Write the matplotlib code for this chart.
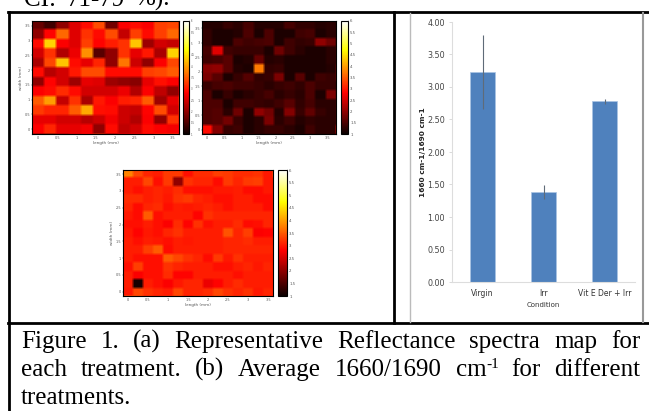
import matplotlib
matplotlib.use("Agg")
import matplotlib.pyplot as plt
import numpy as np
from matplotlib.cm import ScalarMappable
from matplotlib.colors import Normalize

W, H = 649, 411

map_a = [
    [.14, .08, .20, .32, .38, .48, .16, .36, .38, .36, .46, .47],
    [.20, .37, .52, .32, .44, .38, .48, .28, .46, .38, .46, .52],
    [.38, .68, .36, .32, .46, .37, .41, .44, .66, .22, .30, .28],
    [.30, .44, .25, .34, .58, .12, .20, .44, .33, .40, .24, .68],
    [.24, .47, .66, .38, .33, .42, .20, .54, .29, .20, .36, .47],
    [.38, .26, .30, .40, .48, .48, .38, .38, .38, .46, .47, .50],
    [.20, .37, .30, .22, .33, .32, .22, .20, .19, .33, .39, .36],
    [.36, .38, .43, .38, .30, .30, .30, .34, .25, .36, .27, .20],
    [.50, .60, .28, .44, .24, .40, .36, .41, .42, .50, .22, .33],
    [.45, .42, .42, .50, .62, .39, .38, .29, .28, .37, .48, .30],
    [.33, .33, .30, .30, .26, .29, .35, .29, .25, .36, .20, .44],
    [.36, .42, .33, .33, .35, .20, .38, .27, .30, .38, .36, .35],
]
map_b = [
    [.04, .04, .07, .05, .09, .04, .04, .04, .09, .06, .06, .04, .05],
    [.06, .03, .03, .04, .10, .03, .10, .03, .03, .08, .09, .03, .05],
    [.06, .03, .03, .10, .08, .09, .10, .03, .08, .06, .07, .20, .15],
    [.09, .32, .08, .07, .07, .07, .03, .15, .08, .05, .03, .03, .05],
    [.08, .09, .12, .03, .04, .14, .04, .05, .03, .03, .03, .03, .05],
    [.19, .20, .12, .04, .03, .55, .06, .07, .03, .03, .03, .03, .04],
    [.17, .12, .03, .07, .11, .06, .07, .17, .03, .12, .03, .08, .07],
    [.07, .09, .10, .08, .08, .07, .05, .07, .08, .06, .10, .07, .07],
    [.10, .03, .07, .03, .05, .07, .09, .05, .07, .05, .10, .03, .17],
    [.10, .10, .03, .08, .08, .07, .06, .08, .12, .06, .09, .05, .05],
    [.10, .11, .05, .15, .03, .20, .16, .04, .18, .07, .13, .07, .05],
    [.10, .11, .16, .07, .03, .05, .17, .05, .08, .04, .06, .05, .05],
    [.38, .18, .07, .08, .03, .05, .07, .07, .05, .03, .08, .05, .05],
]
map_c = [
    [.56, .47, .42, .41, .45, .45, .39, .43, .43, .46, .45, .43, .43, .44, .40],
    [.41, .41, .47, .39, .45, .20, .44, .42, .42, .38, .45, .42, .45, .46, .40],
    [.41, .39, .41, .42, .41, .43, .39, .39, .39, .40, .40, .41, .38, .38, .40],
    [.43, .43, .41, .42, .40, .44, .45, .42, .41, .39, .39, .41, .41, .38, .38],
    [.42, .38, .42, .43, .39, .41, .40, .41, .42, .41, .39, .41, .41, .41, .38],
    [.40, .38, .50, .39, .41, .41, .41, .37, .44, .42, .42, .42, .42, .42, .42],
    [.39, .39, .41, .39, .36, .43, .37, .44, .39, .41, .41, .43, .38, .39, .42],
    [.40, .37, .40, .39, .42, .44, .41, .41, .41, .41, .49, .42, .46, .36, .37],
    [.41, .39, .41, .40, .39, .41, .40, .41, .41, .41, .42, .42, .43, .41, .41],
    [.41, .41, .46, .50, .38, .41, .41, .41, .41, .41, .42, .42, .42, .42, .42],
    [.41, .39, .39, .39, .50, .47, .44, .42, .38, .45, .40, .44, .41, .41, .41],
    [.39, .46, .39, .39, .44, .42, .41, .41, .41, .39, .39, .41, .42, .40, .42],
    [.41, .36, .39, .39, .43, .37, .37, .41, .41, .41, .41, .39, .41, .41, .41],
    [.41, .02, .41, .39, .36, .40, .42, .42, .34, .37, .41, .43, .41, .41, .41],
    [.40, .47, .44, .42, .41, .47, .42, .42, .43, .47, .44, .42, .44, .40, .42],
]
bar_ticks = [0.0, 0.5, 1.0, 1.5, 2.0, 2.5, 3.0, 3.5, 4.0]
conditions = ["Virgin", "Irr", "Vit E Der + Irr"]
ratios = [3.23, 1.38, 2.78]
ratio_err = [0.57, 0.11, 0.04]
map_ticks = [0, 0.5, 1, 1.5, 2, 2.5, 3, 3.5]
cbar_labels = ["1", "1.5", "2", "2.5", "3", "3.5", "4", "4.5", "5", "5.5", "6"]
top_line = "CI: 71-79 %)."
caption = ["Figure 1. (a) Representative Reflectance spectra map for",
           "each treatment. (b) Average 1660/1690 cm for different",
           "treatments."]

fig = plt.figure(figsize=(W / 100, H / 100), dpi=100)


def px_axes(x0, y0, x1, y1, **kw):
    return fig.add_axes([x0 / W, 1 - y1 / H, (x1 - x0) / W, (y1 - y0) / H], **kw)


def soften(img, dpi):
    # the reference is an upscaled scan, cells have soft edges
    out = img.copy()
    for axis in (0, 1):
        out = (np.roll(out, 1, axis) + out + np.roll(out, -1, axis)) / 3
    out[..., 3] = img[..., 3]
    return out, 0, 0


def draw_map(data, box, cbox, top, ylabel, size=2.8):
    ax = px_axes(*box)
    step = top / (len(data) - 1)
    im = ax.imshow(data, cmap="hot", vmin=0, vmax=1, aspect="auto", interpolation="nearest",
                   extent=[-step / 2, top + step / 2, -step / 2, top + step / 2])
    im.set_agg_filter(soften)
    ax.set_xticks(map_ticks)
    ax.set_yticks(map_ticks)
    ax.set_xticklabels([str(t) for t in map_ticks])
    ax.set_yticklabels([str(t) for t in map_ticks])
    ax.tick_params(labelsize=2.5, length=1, width=0.3, pad=0.5, colors="#555555")
    ax.set_xlabel("length (mm)", fontsize=3, labelpad=1, color="#555555")
    if ylabel:
        ax.set_ylabel("width (mm)", fontsize=3, labelpad=1, color="#555555")
    for s in ax.spines.values():
        s.set_linewidth(0.8)

    cax = px_axes(*cbox)
    cb = fig.colorbar(ScalarMappable(Normalize(0, 1), "hot"), cax=cax)
    cb.set_ticks([i / 10 for i in range(11)])
    cb.set_ticklabels(cbar_labels)
    cb.ax.tick_params(labelsize=size, length=1, width=0.3, pad=0.5, colors="#555555")
    cb.outline.set_linewidth(0.8)


draw_map(map_a, (32, 21, 179, 134), (183, 21, 189, 134), 3.5, True, size=1.8)
draw_map(map_b, (202, 21, 336, 134), (341, 21, 348, 134), 3.6, False)
draw_map(map_c, (123, 170, 273, 296), (278, 170, 287, 296), 3.5, True)

# bar chart
ax = px_axes(452, 22, 635, 282)
pos = range(len(conditions))
ax.bar(pos, ratios, width=0.41, color="#4f81bd", edgecolor="#a9c4e4", linewidth=0.5,
       yerr=ratio_err, ecolor="#5f6b78", error_kw={"elinewidth": 0.8})
ax.set_xlim(-0.5, 2.5)
ax.set_ylim(0, 4)
ax.set_yticks(bar_ticks)
ax.set_yticklabels(["%.2f" % t for t in bar_ticks])
ax.set_xticks(list(pos))
ax.set_xticklabels(conditions)
ax.tick_params(axis="x", length=0, labelsize=5.5, pad=5, colors="#333333")
ax.tick_params(axis="y", length=2, width=0.5, labelsize=5.8, pad=3, color="#cccccc", labelcolor="#444444")
ax.set_xlabel("Condition", fontsize=5, labelpad=3, color="#333333")
ax.set_ylabel("1660 cm-1/1690 cm-1", fontsize=5.3, fontweight="bold", labelpad=1, color="#222222")
ax.spines["top"].set_visible(False)
ax.spines["right"].set_visible(False)
ax.spines["left"].set_color("#dddddd")
ax.spines["bottom"].set_color("#dddddd")

# page layer: table rules, chart frame and caption, in pixel coordinates
page = fig.add_axes([0, 0, 1, 1], zorder=5)
page.set_xlim(0, W)
page.set_ylim(H, 0)
page.axis("off")
page.plot([8, W], [12, 12], color="black", lw=2)
page.plot([8, W], [323, 323], color="black", lw=2)
page.plot([9, 9], [12, H], color="black", lw=2)
page.plot([394, 394], [12, 323], color="black", lw=2)
page.plot([409.5, 409.5], [13, 322], color="#bbbbbb", lw=1)
page.plot([643, 643], [13, 322], color="#999999", lw=1.5)

serif = {"family": "Liberation Serif", "fontsize": 18, "color": "black"}
rend = fig.canvas.get_renderer()


def width(s):
    t = page.text(0, 0, s, **serif)
    w = t.get_window_extent(rend).width
    t.remove()
    return w


def justify(line, y, x0=21, x1=640):
    words = line.split()
    widths = [width(w) for w in words]
    gap = (x1 - x0 - sum(widths) - (11 if "cm" in words else 0)) / (len(words) - 1)
    x = x0
    for w, ww in zip(words, widths):
        page.text(x, y, w, **serif)
        if w == "cm":
            page.text(x + ww, y - 8, "-1", family="Liberation Serif", fontsize=11, color="black")
            x += 11
        x += ww + gap


justify(top_line, 6, 24, 170)
justify(caption[0], 348)
justify(caption[1], 376)
page.text(21, 404, caption[2], **serif)

fig.savefig("out.png", dpi=100)
